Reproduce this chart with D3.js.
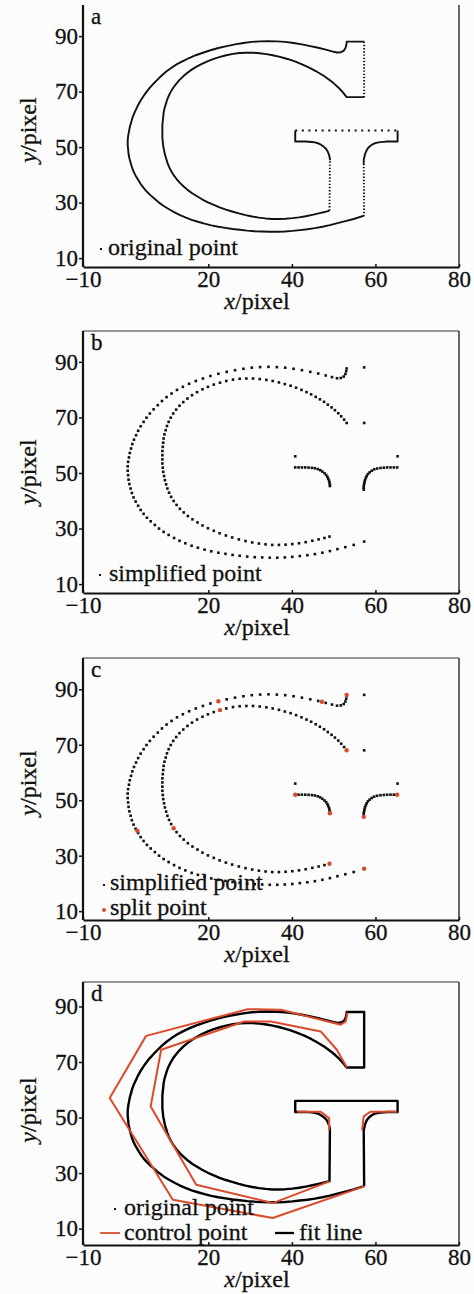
<!DOCTYPE html>
<html>
<head>
<meta charset="utf-8">
<script src="https://cdn.jsdelivr.net/npm/d3@7"></script>
<style>
  body { margin: 0; background: #fcfcfc; }
  text { font-family: "Liberation Serif", "Times New Roman", serif; fill: #111; stroke: #111; stroke-width: 0.3px; }
</style>
</head>
<body>
<div id="chart"></div>
<script>
// axis ticks
var xTicks = [-10, 20, 40, 60, 80];
var yTicks = [10, 30, 50, 70, 90];

// outer arc of the G, from the bottom right end round to the top serif
var outerArc = [[57.3,25.3],[54.8,24.1],[52.8,23.3],[50.9,22.6],[49.1,21.9],[47.3,21.3],[45.5,20.8],[43.7,20.4],[41.9,20.1],
  [40.1,19.8],[38.3,19.6],[36.5,19.5],[34.7,19.5],[32.9,19.6],[31.1,19.7],[29.3,19.9],[27.5,20.2],[25.8,20.5],[24.1,20.9],
  [22.4,21.3],[20.7,21.8],[19.1,22.4],[17.5,23.1],[16,23.8],[14.5,24.7],[13.1,25.6],[11.8,26.6],[10.5,27.7],[9.3,28.8],
  [8.2,30],[7.2,31.3],[6.2,32.6],[5.3,33.9],[4.5,35.3],[3.8,36.7],[3.2,38.2],[2.6,39.7],[2.1,41.2],[1.7,42.8],[1.4,44.4],
  [1.1,46],[0.9,47.6],[0.8,49.2],[0.7,50.8],[0.7,52.4],[0.8,54],[1,55.6],[1.2,57.2],[1.5,58.8],[1.8,60.4],[2.2,62],
  [2.7,63.6],[3.2,65.2],[3.8,66.8],[4.5,68.4],[5.2,69.9],[6,71.4],[6.9,72.9],[7.9,74.4],[8.9,75.9],[10,77.3],[11.2,78.6],
  [12.5,79.9],[13.9,81],[15.4,82.1],[17,83.1],[18.7,84],[20.5,84.9],[22.4,85.7],[24.4,86.4],[26.4,87],[28.4,87.5],
  [30.4,87.9],[32.4,88.1],[34.4,88.2],[36.4,88.1],[38.4,87.9],[40.4,87.5],[42.4,87],[44.4,86.4],[46.3,85.8],[48.1,85.1],
  [49.6,84.5],[50.8,84.1],[51.7,84.2],[52.4,84.7],[52.8,85.6],[53,86.6],[53.1,87.6]];

// inner arc, from the top right end round to the bottom right end
var innerArc = [[53.1,68],[52.5,69.2],[51.8,70.4],[51.1,71.5],[50.3,72.6],[49.5,73.6],[48.6,74.6],[47.7,75.6],[46.7,76.5],
  [45.7,77.4],[44.6,78.3],[43.5,79.1],[42.3,79.9],[41,80.7],[39.7,81.4],[38.3,82],[36.9,82.6],[35.4,83.1],[33.9,83.5],
  [32.3,83.8],[30.7,84],[29.1,84],[27.5,83.9],[25.9,83.6],[24.3,83.1],[22.8,82.5],[21.3,81.8],[19.9,81],[18.6,80.1],
  [17.3,79.1],[16.1,78],[15,76.8],[14,75.5],[13.1,74.2],[12.3,72.8],[11.6,71.4],[11,69.9],[10.5,68.4],[10.1,66.9],
  [9.8,65.4],[9.5,63.9],[9.3,62.4],[9.2,60.9],[9.1,59.4],[9,57.9],[9,56.4],[9,54.9],[9,53.4],[9.1,51.9],[9.2,50.4],
  [9.4,48.9],[9.6,47.4],[9.9,45.9],[10.2,44.4],[10.6,42.9],[11.1,41.4],[11.7,39.9],[12.4,38.5],[13.2,37.1],[14.1,35.8],
  [15.1,34.5],[16.2,33.3],[17.4,32.2],[18.6,31.1],[19.9,30.1],[21.3,29.2],[22.7,28.3],[24.2,27.5],[25.7,26.8],[27.3,26.1],
  [28.9,25.5],[30.5,25],[32.1,24.6],[33.7,24.3],[35.3,24.1],[36.9,24.1],[38.5,24.2],[40.1,24.4],[41.7,24.7],[43.3,25.1],
  [44.9,25.6],[46.4,26.1],[47.8,26.6],[49,27.1]];

// crossbar serifs
var serifLeft = [[40.8,52],[41.6,52],[42.4,52],[43.2,52],[44,51.95],[44.8,51.85],[45.5,51.7],[46.2,51.4],[46.8,51],
  [47.3,50.5],[47.8,49.9],[48.2,49.3],[48.5,48.6],[48.7,47.9],[48.9,47.2],[49,46.5],[49.1,45.8],[49.1,45.3]];
var serifRight = [[57.2,44],[57.2,44.7],[57.2,45.4],[57.3,46.1],[57.4,46.8],[57.5,47.5],[57.7,48.2],[57.9,48.9],[58.2,49.6],
  [58.6,50.2],[59.1,50.8],[59.7,51.3],[60.4,51.6],[61.2,51.8],[62,51.9],[62.8,52],[63.6,52],[64.4,52],[65.2,52]];

// straight corners of the top serif and of the crossbar
var topSerif = [[53.1,88],[57.3,88],[57.3,68],[53.1,68]];
var crossbar = [[40.8,52],[40.8,56],[65.3,56],[65.3,52]];

// split points (panel c)
var splitPoints = [[22.4,85.7],[22.8,82.5],[47.2,85.5],[53.1,88],[53.1,68],[3,39],[11.7,39.9],[40.8,52],[49.1,45.3],
  [57.2,44],[65.2,52],[49,27.1],[57.3,25.3]];

// control polygons (panel d)
var ctrlOuter = [[57.3,25.2],[35.4,13.8],[11.5,20.4],[-3.6,57],[5.1,79.4],[29.4,89],[37.4,88.8],[47.2,85.1],[51.7,83.4],[52.9,84.6],[53.3,87.8]];
var ctrlInner = [[53.2,68],[50.7,74.5],[46.9,81],[35,84.6],[28.6,84.6],[8.7,74.4],[6.2,54],[17.1,25.8],[35.4,19.2],[49,27]];
var ctrlSerifL = [[41.3,52.1],[46.9,52.1],[48.9,49.8],[48.9,45.4]];
var ctrlSerifR = [[56.8,45.4],[57.2,50.4],[58.8,52.1],[65.2,52.1]];

var red = "#db4a2a";

var svg = d3.select("#chart")
  .append("svg")
    .attr("width", 474)
    .attr("height", 1294);

// one frame per panel
var panels = [
  {letter: "a", top: 5,   bottom: 267,  yMin: 6.8, yMax: 101.2, ylab: 125, noTop: true},
  {letter: "b", top: 331, bottom: 593,  yMin: 6.8, yMax: 101.1, ylab: 141},
  {letter: "c", top: 658, bottom: 920,  yMin: 6.8, yMax: 101.3, ylab: 125},
  {letter: "d", top: 982, bottom: 1245, yMin: 4.1, yMax: 98.8,  ylab: 128}
];

var left = 83, right = 459;
var x = d3.scaleLinear().domain([-10, 80]).range([left, right]);

panels.forEach(function(p) {
  p.y = d3.scaleLinear().domain([p.yMin, p.yMax]).range([p.bottom, p.top]);
  var g = svg.append("g");
  p.g = g;

  // thin frame on top and right
  if (!p.noTop) {
    g.append("line").attr("x1", left).attr("x2", right).attr("y1", p.top).attr("y2", p.top)
      .attr("stroke", "#333").attr("stroke-width", 1.2);
  }
  g.append("line").attr("x1", right).attr("x2", right).attr("y1", p.top).attr("y2", p.bottom)
    .attr("stroke", "#333").attr("stroke-width", 1.5);

  var xa = g.append("g")
    .attr("transform", "translate(0," + p.bottom + ")")
    .call(d3.axisBottom(x).tickValues(xTicks).tickSizeInner(-3).tickSizeOuter(0).tickPadding(4));
  var ya = g.append("g")
    .attr("transform", "translate(" + left + ",0)")
    .call(d3.axisLeft(p.y).tickValues(yTicks).tickSizeInner(4).tickSizeOuter(0).tickPadding(1));
  [xa, ya].forEach(function(a) {
    a.select(".domain").attr("stroke", "#111").attr("stroke-width", 2.2);
    a.selectAll(".tick line").attr("stroke", "#111").attr("stroke-width", 1.5);
    a.selectAll("text").attr("font-family", "Liberation Serif").attr("font-size", 23).attr("fill", "#111");
  });
  ya.select(".domain").attr("d", "M0," + p.top + "V" + p.bottom);

  g.append("text").attr("x", 91).attr("y", p.top + 19).style("font-size", "23px").text(p.letter);

  // axis titles
  var xl = g.append("text").attr("x", 257).attr("y", p.bottom + 42)
    .attr("text-anchor", "middle").style("font-size", "24px");
  xl.append("tspan").style("font-style", "italic").text("x");
  xl.append("tspan").text("/pixel");
  var yl = g.append("text").attr("transform", "translate(36," + (p.top + p.ylab) + ") rotate(-90)")
    .attr("text-anchor", "middle").style("font-size", "24px");
  yl.append("tspan").style("font-style", "italic").text("y");
  yl.append("tspan").text("/pixel");
});

var line = function(p) {
  return d3.line().x(function(d) { return x(d[0]); }).y(function(d) { return p.y(d[1]); });
};

function drawPath(p, pts, color, width, dash) {
  var path = p.g.append("path")
    .datum(pts)
    .attr("fill", "none")
    .attr("stroke", color)
    .attr("stroke-width", width)
    .attr("stroke-linejoin", "round")
    .attr("d", line(p));
  if (dash) path.attr("stroke-dasharray", dash);
  return path;
}

function drawDots(p, pts, color, size) {
  p.g.append("g").selectAll("rect")
    .data(pts)
    .enter().append("rect")
      .attr("x", function(d) { return x(d[0]) - size / 2; })
      .attr("y", function(d) { return p.y(d[1]) - size / 2; })
      .attr("width", size)
      .attr("height", size)
      .attr("fill", color);
}

var rev = function(a) { return a.slice().reverse(); };

// panel a: original points, solid where dense, dotted on straight parts
var pa = panels[0];
drawPath(pa, outerArc.concat(topSerif.slice(0, 2)), "#111", 1.9);
drawPath(pa, [topSerif[1], topSerif[2]], "#111", 1.9, "1.4,1.8");
drawPath(pa, [topSerif[2], topSerif[3]].concat(innerArc), "#111", 1.9);
drawPath(pa, [innerArc[innerArc.length - 1], serifLeft[serifLeft.length - 1]], "#111", 1.9, "1.4,1.8");
drawPath(pa, rev(serifLeft).concat([crossbar[1]]), "#111", 1.9);
drawPath(pa, [crossbar[1], crossbar[2]], "#111", 1.9, "2,4.6");
drawPath(pa, [crossbar[2], crossbar[3]].concat(rev(serifRight)), "#111", 1.9);
drawPath(pa, [serifRight[0], outerArc[0]], "#111", 1.9, "1.4,1.8");

// panels b and c: simplified points
var simplified = outerArc.concat(innerArc, serifLeft, serifRight,
  [topSerif[1], topSerif[2], crossbar[1], crossbar[2]]);
drawDots(panels[1], simplified, "#111", 2.6);
drawDots(panels[2], simplified, "#111", 2.6);
panels[2].g.append("g").selectAll("circle")
  .data(splitPoints)
  .enter().append("circle")
    .attr("cx", function(d) { return x(d[0]); })
    .attr("cy", function(d) { return panels[2].y(d[1]); })
    .attr("r", 2.2)
    .attr("fill", red);

// panel d: fit line and control polygons
var pd = panels[3];
var outline = outerArc.concat(topSerif, innerArc, rev(serifLeft), crossbar, rev(serifRight), [outerArc[0]]);
drawPath(pd, outline, "#000", 2.4);
[ctrlOuter, ctrlInner, ctrlSerifL, ctrlSerifR].forEach(function(c) {
  drawPath(pd, c, red, 2);
});

// legends
function legendText(p, tx, ty, label) {
  p.g.append("text").attr("x", tx).attr("y", ty).style("font-size", "24px").text(label);
}
panels[0].g.append("rect").attr("x", 100).attr("y", 248).attr("width", 2).attr("height", 2).attr("fill", "#111");
legendText(panels[0], 108, 255, "original point");
panels[1].g.append("rect").attr("x", 99).attr("y", 574).attr("width", 2).attr("height", 2).attr("fill", "#111");
legendText(panels[1], 109, 581, "simplified point");
panels[2].g.append("rect").attr("x", 103).attr("y", 884).attr("width", 2).attr("height", 2).attr("fill", "#111");
legendText(panels[2], 110, 890, "simplified point");
panels[2].g.append("circle").attr("cx", 104).attr("cy", 910).attr("r", 2).attr("fill", red);
legendText(panels[2], 110, 915, "split point");
pd.g.append("rect").attr("x", 114).attr("y", 1208).attr("width", 2).attr("height", 2).attr("fill", "#111");
legendText(pd, 124, 1215, "original point");
pd.g.append("line").attr("x1", 100).attr("x2", 120).attr("y1", 1233).attr("y2", 1233).attr("stroke", red).attr("stroke-width", 1.8);
legendText(pd, 124, 1240, "control point");
pd.g.append("line").attr("x1", 275).attr("x2", 294).attr("y1", 1233).attr("y2", 1233).attr("stroke", "#000").attr("stroke-width", 2.3);
legendText(pd, 299, 1240, "fit line");
</script>
</body>
</html>
